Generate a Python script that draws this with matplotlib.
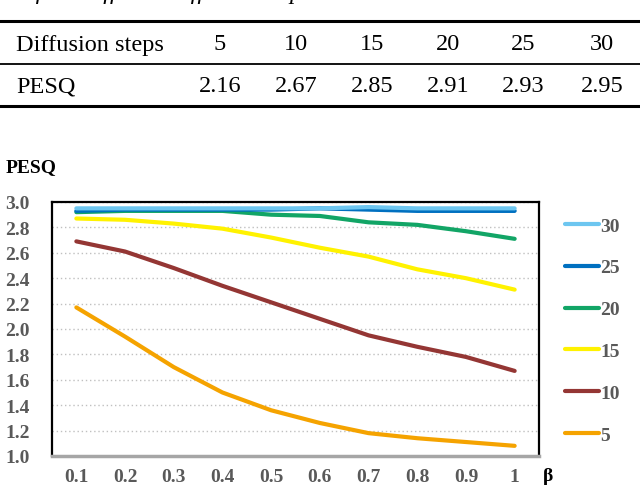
import matplotlib
matplotlib.use("Agg")
import matplotlib.pyplot as plt
from matplotlib.lines import Line2D

# ── Data ──────────────────────────────────────────────────
steps = [5, 10, 15, 20, 25, 30]
steps_pesq = [2.16, 2.67, 2.85, 2.91, 2.93, 2.95]

beta = ["0.1", "0.2", "0.3", "0.4", "0.5", "0.6", "0.7", "0.8", "0.9", "1"]
pesq_5  = [2.17, 1.94, 1.70, 1.50, 1.36, 1.26, 1.18, 1.14, 1.11, 1.08]
pesq_10 = [2.69, 2.61, 2.48, 2.34, 2.21, 2.08, 1.95, 1.86, 1.78, 1.67]
pesq_15 = [2.87, 2.86, 2.83, 2.79, 2.72, 2.64, 2.57, 2.47, 2.40, 2.31]
pesq_20 = [2.92, 2.93, 2.93, 2.93, 2.90, 2.89, 2.84, 2.82, 2.77, 2.71]
pesq_25 = [2.93, 2.94, 2.94, 2.94, 2.94, 2.95, 2.94, 2.93, 2.93, 2.93]
pesq_30 = [2.95, 2.95, 2.95, 2.95, 2.95, 2.95, 2.96, 2.95, 2.95, 2.95]

W, H = 640, 489
SERIF = "Liberation Serif"
GRAY = "#595959"

fig = plt.figure(figsize=(W / 100, H / 100), dpi=100)
fig.patch.set_facecolor("white")

def fx(px): return px / W
def fy(py): return 1 - py / H

# ── Cropped caption + table ───────────────────────────────
fig.text(fx(-112), fy(-1), "PESQ results of the different diffusion steps.",
         fontsize=17.5, family=SERIF, style="italic", va="baseline", ha="left")

for y, lw in [(22, 2.2), (65, 1.3), (107, 2.2)]:
    fig.add_artist(Line2D([0, 1], [fy(y), fy(y)], color="black", lw=lw,
                          transform=fig.transFigure))

col_x = [220, 296, 372, 448, 523, 602]
fig.text(fx(16), fy(45), "Diffusion steps", fontsize=17.5, family=SERIF,
         va="center", ha="left")
fig.text(fx(16), fy(87), "PESQ", fontsize=17.5, family=SERIF,
         va="center", ha="left")
for x, s, p in zip(col_x, steps, steps_pesq):
    fig.text(fx(x), fy(45), str(s), fontsize=17.5, family=SERIF, va="center", ha="center")
    fig.text(fx(x), fy(87), f"{p:.2f}", fontsize=17.5, family=SERIF, va="center", ha="center")

# ── Line chart ────────────────────────────────────────────
ax = fig.add_axes([fx(52), fy(457), fx(539) - fx(52), fy(203) - fy(457)])
series = [
    ("5",  pesq_5,  "#F5A300"),
    ("10", pesq_10, "#943634"),
    ("15", pesq_15, "#FFF200"),
    ("20", pesq_20, "#12A566"),
    ("25", pesq_25, "#0070C0"),
    ("30", pesq_30, "#6DC6F0"),
]
xs = list(range(len(beta)))
handles = []
for label, vals, c in series:
    h, = ax.plot(xs, vals, color=c, lw=3, solid_capstyle="round", label=label)
    handles.append(h)

ax.set_xlim(-0.5, len(beta) - 0.5)
ax.set_ylim(1.0, 3.0)
ax.set_yticks([1.0 + 0.2 * i for i in range(11)])
ax.set_yticklabels([f"{1.0 + 0.2 * i:.1f}" for i in range(11)])
ax.set_xticks(xs)
ax.set_xticklabels(beta)
for lab in ax.get_xticklabels() + ax.get_yticklabels():
    lab.set_family(SERIF); lab.set_fontweight("bold"); lab.set_fontsize(14); lab.set_color(GRAY)
ax.tick_params(axis="y", length=0, pad=16)
ax.tick_params(axis="x", length=0, pad=9)
ax.yaxis.grid(True, color="#c0c0c0", lw=1, linestyle=(0, (1, 2)))
ax.set_axisbelow(True)
for side in ["left", "right", "top"]:
    ax.spines[side].set_color("black"); ax.spines[side].set_linewidth(1.6)
ax.spines["bottom"].set_color("#a6a6a6"); ax.spines["bottom"].set_linewidth(2.5)

fig.text(fx(6), fy(168), "PESQ", fontsize=14, family=SERIF, fontweight="bold",
         va="center", ha="left")
fig.text(fx(548), fy(477), "β", fontsize=14, family=SERIF, fontweight="bold",
         va="center", ha="center")

leg = fig.legend(handles[::-1], [s[0] for s in series][::-1],
                 loc="center left", bbox_to_anchor=(fx(565), fy(331.5)),
                 frameon=False, borderpad=0, borderaxespad=0,
                 handlelength=1.75, handletextpad=0.05, labelspacing=1.25,
                 prop={"family": SERIF, "weight": "bold", "size": 14})
for t in leg.get_texts():
    t.set_color(GRAY)

fig.savefig("out.png", dpi=100, facecolor="white")
